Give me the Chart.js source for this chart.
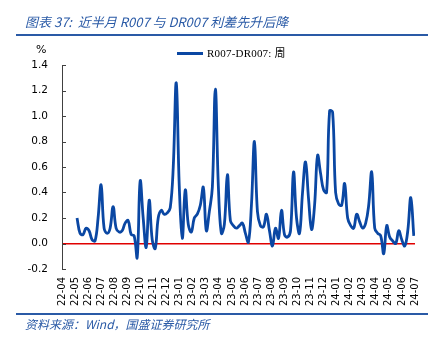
<!DOCTYPE html>
<html>
<head>
<meta charset="utf-8">
<script src="https://cdn.jsdelivr.net/npm/chart.js@4.4.1/dist/chart.umd.min.js"></script>
<style>
  html,body{margin:0;padding:0;background:#fff;}
  #wrap{position:relative;width:443px;height:338px;overflow:hidden;font-family:"DejaVu Sans",sans-serif;}
  canvas{position:absolute;left:0;top:0;}
  .title{position:absolute;left:25px;top:13px;font-family:"Noto Sans CJK SC",sans-serif;font-style:italic;font-size:13px;color:#2a5aa6;white-space:nowrap;line-height:18px;}
  .rule{position:absolute;left:16px;width:412px;height:2px;background:#2a5aa6;}
  .foot{position:absolute;left:25px;top:316px;font-family:"Noto Sans CJK SC",sans-serif;font-style:italic;font-size:12px;color:#2a5aa6;white-space:nowrap;line-height:16px;}
  .unit{position:absolute;left:36px;top:43px;font-size:11px;color:#000;}
  .legend{position:absolute;left:177px;top:46px;font-family:"Liberation Serif","Noto Sans CJK SC",serif;font-size:11px;color:#000;white-space:nowrap;line-height:14px;letter-spacing:0.2px;}
  .legend span.ln{display:inline-block;width:26px;height:3px;background:#0a47a3;vertical-align:middle;margin-right:4px;position:relative;top:-1px;}
</style>
</head>
<body>
<div id="wrap">
  <canvas id="c" width="443" height="338"></canvas>
  <div class="title">图表 37:&nbsp; 近半月 R007 与 DR007 利差先升后降</div>
  <div class="rule" style="top:34px;"></div>
  <div class="unit">%</div>
  <div class="legend"><span class="ln"></span>R007-DR007: 周</div>
  <div class="rule" style="top:313px;height:2px;"></div>
  <div class="foot">资料来源：Wind，国盛证券研究所</div>
</div>
<script>
// Month tick labels (category positions on a monthly time axis)
const monthLabels = ["22-04","22-05","22-06","22-07","22-08","22-09","22-10","22-11","22-12",
  "23-01","23-02","23-03","23-04","23-05","23-06","23-07","23-08","23-09","23-10","23-11","23-12",
  "24-01","24-02","24-03","24-04","24-05","24-06","24-07"];
// Weekly series start: 2022-05-06, i.e. 35 days after 2022-04-01
const seriesStartDay = 35;
const weekDays = 7;
const daysPerMonth = 30.4375;
// R007-DR007 weekly spread (%)
const spread = [
  0.20,0.08,0.07,0.12,0.10,0.03,0.02,0.20,0.46,0.12,
  0.08,0.12,0.29,0.12,0.09,0.10,0.16,0.18,0.07,0.06,
  -0.11,0.49,0.20,-0.03,0.34,0.03,-0.04,0.20,0.26,0.23,
  0.24,0.28,0.60,1.26,0.45,0.04,0.42,0.15,0.09,0.20,
  0.23,0.30,0.44,0.10,0.25,0.44,1.21,0.45,0.08,0.15,
  0.54,0.18,0.14,0.12,0.14,0.16,0.08,0.01,0.30,0.80,
  0.25,0.14,0.13,0.23,0.10,-0.02,0.12,0.04,0.26,0.07,
  0.05,0.10,0.56,0.20,0.08,0.40,0.64,0.35,0.11,0.30,
  0.69,0.55,0.42,0.40,1.04,1.03,0.40,0.31,0.30,0.47,
  0.20,0.14,0.12,0.23,0.17,0.12,0.16,0.30,0.56,0.12,
  0.08,0.06,-0.08,0.14,0.05,0.02,0.00,0.10,0.03,-0.02,
  0.10,0.36,0.06
];
const yTicks = [-0.2,0.0,0.2,0.4,0.6,0.8,1.0,1.2,1.4];

const points = spread.map((v,i)=>({x:(seriesStartDay + weekDays*i)/daysPerMonth, y:v}));

const innerTicks = {
  id:'innerTicks',
  afterDraw(chart){
    const y = chart.scales.y, ctx = chart.ctx;
    ctx.save();
    ctx.strokeStyle = '#404040';
    ctx.lineWidth = 1;
    y.ticks.forEach(t=>{
      const py = Math.round(y.getPixelForValue(t.value)) + 0.5;
      ctx.beginPath();
      ctx.moveTo(y.right, py);
      ctx.lineTo(y.right + 4, py);
      ctx.stroke();
    });
    ctx.restore();
  }
};

new Chart(document.getElementById('c'), {
  type:'line',
  data:{datasets:[{
    label:'R007-DR007: 周',
    data:points,
    borderColor:'#0a47a3',
    borderWidth:2.8,
    pointRadius:0,
    tension:0.4,
    fill:false
  }]},
  options:{
    responsive:false,
    animation:false,
    layout:{padding:{left:0,right:28,top:65,bottom:0}},
    plugins:{legend:{display:false},tooltip:{enabled:false}},
    scales:{
      x:{
        type:'linear',
        min:0,max:monthLabels.length-1,
        grid:{display:false,drawTicks:false},
        border:{display:false},
        afterBuildTicks(s){ s.ticks = monthLabels.map((_,i)=>({value:i})); },
        ticks:{
          autoSkip:false,
          maxRotation:90,minRotation:90,
          padding:8,
          color:'#000',
          font:{family:'DejaVu Sans',size:10},
          callback:(v)=>monthLabels[v]
        },
        afterFit(s){ s.height = 69; }
      },
      y:{
        min:-0.2,max:1.4,
        afterBuildTicks(s){ s.ticks = yTicks.map(v=>({value:v})); },
        grid:{
          drawTicks:false,
          color:(c)=> (c.tick && Math.abs(c.tick.value)<1e-9) ? '#e00000' : 'rgba(0,0,0,0)',
          lineWidth:(c)=> (c.tick && Math.abs(c.tick.value)<1e-9) ? 1.6 : 0
        },
        border:{display:true,color:'#404040',width:1},
        ticks:{
          padding:14,
          color:'#000',
          font:{family:'DejaVu Sans',size:10.5},
          callback:(v)=>Number(v).toFixed(1)
        },
        afterFit(s){ s.width = 62; }
      }
    }
  },
  plugins:[innerTicks]
});
</script>
</body>
</html>
